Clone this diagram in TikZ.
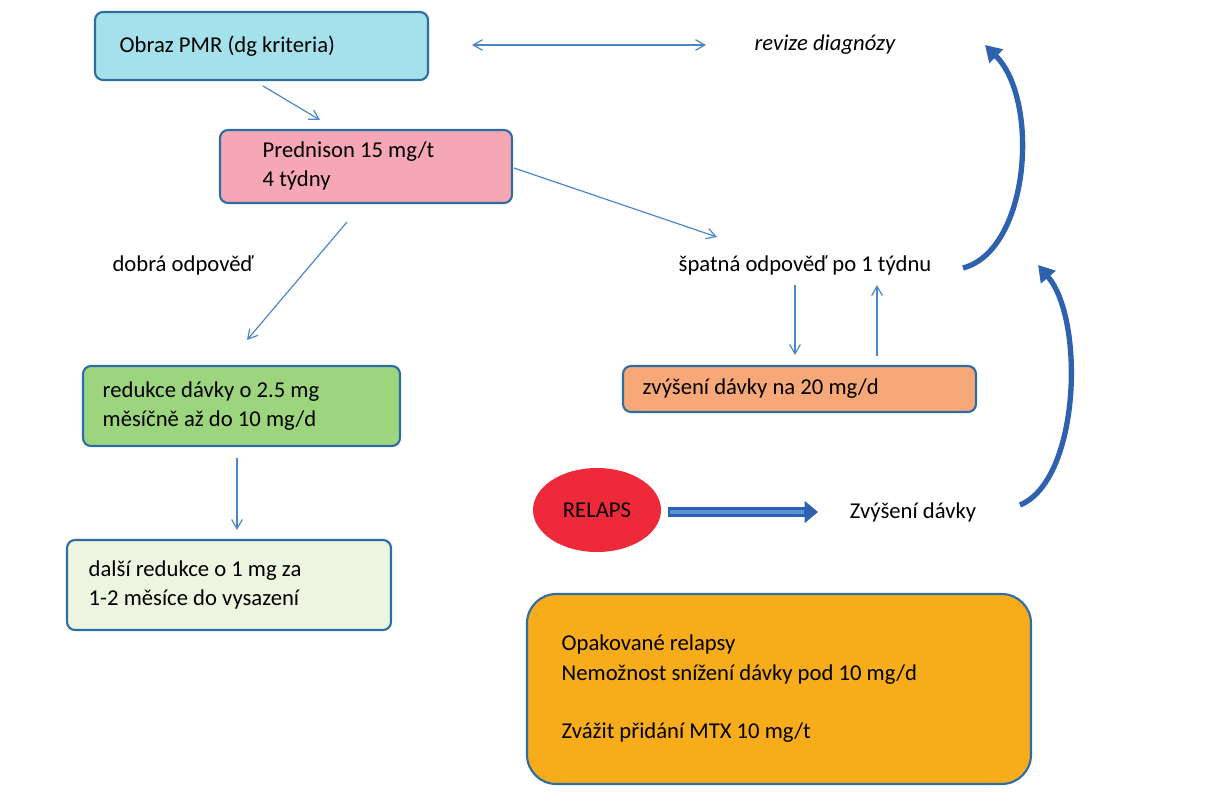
\documentclass[tikz,border=0pt]{standalone}
\usepackage{fontspec}
\setmainfont{Carlito}
\usetikzlibrary{arrows.meta,shapes.geometric}
\definecolor{bord}{HTML}{2E6DA4}
\definecolor{arr}{HTML}{4A86C8}
\definecolor{thick}{HTML}{2E62AE}
\definecolor{cA}{HTML}{A5E1EA}
\definecolor{cB}{HTML}{F5A7B5}
\definecolor{cC}{HTML}{9DD57F}
\definecolor{cD}{HTML}{EBF5E0}
\definecolor{cE}{HTML}{F6A878}
\definecolor{cF}{HTML}{F7AC1C}
\definecolor{cR}{HTML}{EE2A3A}
\definecolor{cL}{HTML}{5A90D6}
\begin{document}
\begin{tikzpicture}[x=0.75pt,y=-0.75pt,
  box/.style={draw=bord,line width=1.6pt,rounded corners=6pt},
  txt/.style={font=\fontsize{17}{22}\selectfont},
  thin/.style={draw=arr,line width=0.9pt,-{Straight Barb[length=7pt,width=8pt]}},
  curved/.style={draw=thick,line width=4pt,-{Triangle[length=12pt,width=14pt]}}]
\useasboundingbox (0,0) rectangle (1228,800);
\path[box,fill=cA] (95,12) rectangle (428,80);
\node[txt,anchor=west] (obraz) at (115,46) {Obraz PMR (dg kriteria)};
\path[box,fill=cB] (220,130) rectangle (512,203);
\node[txt,anchor=west,align=left] (pred) at (258,166) {Prednison 15 mg/t\\4 týdny};
\path[box,fill=cC] (83,366) rectangle (400,446);
\node[txt,anchor=west,align=left] (red) at (98,406) {redukce dávky o 2.5 mg\\měsíčně až do 10 mg/d};
\path[box,fill=cD] (67,540) rectangle (391,630);
\node[txt,anchor=west,align=left] (dal) at (84,585) {další redukce o 1 mg za\\1-2 měsíce do vysazení};
\path[box,fill=cE] (623,366) rectangle (976,412);
\node[txt,anchor=west] (zvy) at (638,389) {zvýšení dávky na 20 mg/d};
\path[box,fill=cF,rounded corners=22pt] (527,594) rectangle (1031,784);
\node[txt,anchor=west,align=left] (opak) at (557,689) {Opakované relapsy\\Nemožnost snížení dávky pod 10 mg/d\\[22pt]Zvážit přidání MTX 10 mg/t};
\node[ellipse,fill=cR,minimum width=96pt,minimum height=63pt,txt,inner sep=0pt] (rel) at (597,510) {RELAPS};
\node[font=\fontsize{17}{22}\selectfont\itshape] (rev) at (825,45) {revize diagnózy};
\node[txt] (dobra) at (183,265) {dobrá odpověď};
\node[txt] (spat) at (805,265) {špatná odpověď po 1 týdnu};
\node[txt] (zd) at (913,512) {Zvýšení dávky};
\coordinate (a1) at (472,45); \coordinate (a2) at (706,45);
\draw[thin,{Straight Barb[length=7pt,width=8pt]}-{Straight Barb[length=7pt,width=8pt]}] (a1) -- (a2);
\draw[thin] (263,86) -- (320,120);
\draw[thin] (514,168) -- (717,237);
\draw[thin] (347,222) -- (247,340);
\draw[thin] (795,285) -- (795,355);
\draw[thin] (877,356) -- (877,285);
\draw[thin] (237,458) -- (237,530);
\draw[draw=thick,line width=7pt,-{Triangle[length=10pt,width=16pt]}] (668,512) -- (818,512);
\draw[draw=cL,line width=3pt,shorten >=8pt] (670,512) -- (815,512);
\draw[curved] (963,268) .. controls (1030,250) and (1040,100) .. (985,45);
\draw[curved] (1020,505) .. controls (1080,480) and (1085,320) .. (1038,265);
\end{tikzpicture}
\end{document}
